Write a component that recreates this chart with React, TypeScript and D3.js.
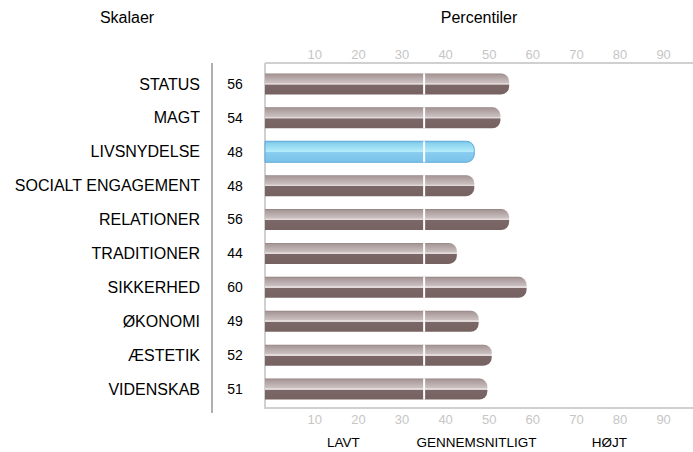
import * as d3 from "d3";
import React, { useEffect, useRef } from "react";

const scales = [
  "STATUS",
  "MAGT",
  "LIVSNYDELSE",
  "SOCIALT ENGAGEMENT",
  "RELATIONER",
  "TRADITIONER",
  "SIKKERHED",
  "ØKONOMI",
  "ÆSTETIK",
  "VIDENSKAB",
];
const values = [56, 54, 48, 48, 56, 44, 60, 49, 52, 51];
const highlighted = ["LIVSNYDELSE"];
const ticks = [10, 20, 30, 40, 50, 60, 70, 80, 90];
const averageMark = 36.5;
const bandLabels = [
  { label: "LAVT", at: 18 },
  { label: "GENNEMSNITLIGT", at: 48.5 },
  { label: "HØJT", at: 79 },
];

const App: React.FC = () => {
  const ref = useRef<SVGSVGElement>(null);

  useEffect(() => {
    const width = 693;
    const height = 452;
    const margin = { top: 63, right: 0, bottom: 44, left: 265 };
    const font = "'Liberation Sans', Arial, sans-serif";

    d3.select(ref.current).selectAll("*").remove();
    const svg = d3.select(ref.current)
      .attr("width", width)
      .attr("height", height)
      .style("position", "absolute")
      .style("top", "0px")
      .style("left", "0px")
      .style("font-family", font);

    const x = d3.scaleLinear().domain([0, 100]).range([margin.left, 701]);
    const y = d3.scaleBand()
      .domain(scales)
      .range([67, 406])
      .paddingInner(0.4)
      .paddingOuter(0.2);

    // Gradients
    const defs = svg.append("defs");
    const grey = defs.append("linearGradient")
      .attr("id", "barGrey").attr("x1", 0).attr("x2", 0).attr("y1", 0).attr("y2", 1);
    [
      ["0%", "#8f7f7f"],
      ["6%", "#a89898"],
      ["44%", "#cbc0c0"],
      ["46%", "#e2dada"],
      ["52%", "#e2dada"],
      ["54%", "#7b6767"],
      ["100%", "#776262"],
    ].forEach(([o, c]) => grey.append("stop").attr("offset", o).attr("stop-color", c));

    const blue = defs.append("linearGradient")
      .attr("id", "barBlue").attr("x1", 0).attr("x2", 0).attr("y1", 0).attr("y2", 1);
    [
      ["0%", "#6db9e2"],
      ["8%", "#86d0ee"],
      ["44%", "#aee9f8"],
      ["48%", "#b9effa"],
      ["54%", "#88cdf0"],
      ["100%", "#7ac2ea"],
    ].forEach(([o, c]) => blue.append("stop").attr("offset", o).attr("stop-color", c));

    // Headers
    svg.append("text")
      .attr("x", 127).attr("y", 23)
      .attr("text-anchor", "middle")
      .style("font-size", "16px")
      .text("Skalaer");
    svg.append("text")
      .attr("x", 479).attr("y", 23)
      .attr("text-anchor", "middle")
      .style("font-size", "16px")
      .text("Percentiler");

    // Axis frame lines
    const axisColor = "#d0d0d0";
    svg.append("line")
      .attr("x1", margin.left).attr("x2", width)
      .attr("y1", margin.top).attr("y2", margin.top)
      .attr("stroke", axisColor).attr("stroke-width", 2);
    svg.append("line")
      .attr("x1", margin.left).attr("x2", width)
      .attr("y1", 408).attr("y2", 408)
      .attr("stroke", axisColor).attr("stroke-width", 2);
    svg.append("line")
      .attr("x1", margin.left).attr("x2", margin.left)
      .attr("y1", margin.top).attr("y2", 409)
      .attr("stroke", axisColor).attr("stroke-width", 2);

    // Separator between labels and values
    svg.append("line")
      .attr("x1", 212).attr("x2", 212)
      .attr("y1", margin.top).attr("y2", 413)
      .attr("stroke", "#b0b0b0").attr("stroke-width", 2);

    // Tick labels top and bottom
    [59, 424].forEach((ty) => {
      svg.append("g")
        .selectAll("text")
        .data(ticks)
        .join("text")
        .attr("x", (d) => x(d) - 1)
        .attr("y", ty)
        .attr("fill", "#c6c6c6")
        .style("font-size", "13px")
        .text((d) => d);
    });

    // Bottom band labels
    svg.append("g")
      .selectAll("text")
      .data(bandLabels)
      .join("text")
      .attr("x", (d) => x(d.at))
      .attr("y", 447)
      .attr("text-anchor", "middle")
      .style("font-size", "13.5px")
      .text((d) => d.label);

    const rows = scales.map((s, i) => ({ name: s, value: values[i] }));

    // Scale names
    svg.append("g")
      .selectAll("text")
      .data(rows)
      .join("text")
      .attr("x", 200)
      .attr("y", (d) => y(d.name)! + y.bandwidth() / 2)
      .attr("dy", "0.35em")
      .attr("text-anchor", "end")
      .style("font-size", "16px")
      .text((d) => d.name);

    // Values
    svg.append("g")
      .selectAll("text")
      .data(rows)
      .join("text")
      .attr("x", 235)
      .attr("y", (d) => y(d.name)! + y.bandwidth() / 2)
      .attr("dy", "0.35em")
      .attr("text-anchor", "middle")
      .style("font-size", "14px")
      .text((d) => d.value);

    // Bars with rounded right end
    const barH = 21;
    const r = 8;
    const barPath = (v: number, cy: number) => {
      const p = d3.path();
      const x0 = x(0);
      const x1 = x(v);
      const y0 = cy - barH / 2;
      const y1 = cy + barH / 2;
      p.moveTo(x0, y0);
      p.lineTo(x1 - r, y0);
      p.arcTo(x1, y0, x1, y0 + r, r);
      p.lineTo(x1, y1 - r);
      p.arcTo(x1, y1, x1 - r, y1, r);
      p.lineTo(x0, y1);
      p.closePath();
      return p.toString();
    };

    svg.append("g")
      .selectAll("path")
      .data(rows)
      .join("path")
      .attr("d", (d) => barPath(d.value, y(d.name)! + y.bandwidth() / 2))
      .attr("fill", (d) => (highlighted.includes(d.name) ? "url(#barBlue)" : "url(#barGrey)"))
      .attr("stroke", (d) => (highlighted.includes(d.name) ? "#5ea9d8" : "none"))
      .attr("stroke-width", 1);

    // Average marker on each bar
    svg.append("g")
      .selectAll("line")
      .data(rows)
      .join("line")
      .attr("x1", x(averageMark))
      .attr("x2", x(averageMark))
      .attr("y1", (d) => y(d.name)! + y.bandwidth() / 2 - barH / 2)
      .attr("y2", (d) => y(d.name)! + y.bandwidth() / 2 + barH / 2)
      .attr("stroke", "#ffffff")
      .attr("stroke-width", 2);
  }, []);

  return <svg ref={ref}></svg>;
};

export default App;
